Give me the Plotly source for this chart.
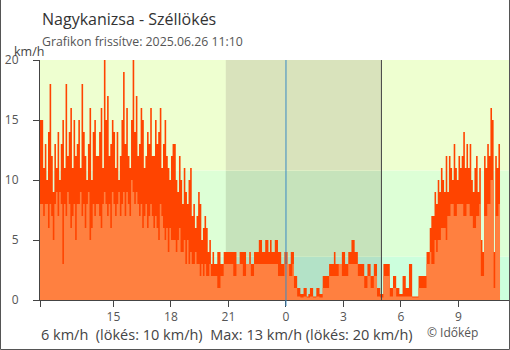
import plotly.graph_objects as go

# 5-minute data, starting 2025.06.25 11:10 (hours since midnight of 06.25)
start_hour = 11 + 10 / 60
step_hour = 5 / 60

gust_kmh = [
    15, 15, 11, 13, 10, 14, 18, 12, 9, 13, 11, 14,
    10, 13, 15, 11, 18, 12, 14, 16, 11, 15, 12, 13,
    15, 11, 18, 14, 12, 10, 13, 16, 10, 14, 15, 12,
    12, 14, 16, 11, 20, 15, 17, 12, 13, 15, 14, 11,
    14, 10, 12, 15, 19, 13, 16, 12, 11, 15, 20, 14,
    17, 12, 13, 16, 15, 11, 12, 14, 13, 16, 12, 12,
    15, 13, 14, 16, 11, 13, 15, 12, 11, 10, 12, 13,
    13, 10, 9, 12, 10, 8, 11, 9, 8, 10, 11, 7,
    8, 6, 7, 9, 8, 5, 6, 7, 6, 4, 5, 3,
    4, 3, 3, 4, 4, 3, 3, 4, 4, 4, 4, 4,
    4, 4, 4, 3, 3, 4, 4, 4, 4, 3, 3, 4,
    3, 3, 4, 4, 4, 5, 5, 4, 4, 5, 5, 4,
    5, 4, 4, 5, 5, 4, 4, 3, 3, 4, 4, 3,
    3, 4, 4, 2, 2, 1, 1, 0.5, 0.5, 1, 1, 0.3,
    0.5, 1, 1, 0.3, 0.3, 1, 1, 0.5, 0.5, 2, 2, 2,
    2, 3, 3, 3, 4, 3, 3, 3, 3, 4, 4, 3,
    3, 4, 4, 5, 5, 4, 4, 3, 3, 3, 3, 2,
    2, 3, 3, 2, 2, 3, 3, 1, 1, 0.5, 0.5, 3,
    3, 3, 3, 1, 1, 2, 2, 1, 1, 0.5, 0.5, 2,
    2, 1, 1, 3, 3, 0.3, 0.3, 0.3, 0.3, 2, 2, 2,
    2, 2, 4, 4, 6, 7, 7, 9, 8, 10, 9, 11,
    10, 9, 12, 9, 12, 11, 10, 13, 11, 10, 12, 11,
    12, 14, 11, 13, 11, 13, 10, 9, 11, 12, 9, 11,
    5, 4, 12, 11, 13, 12, 16, 15, 4, 12, 11, 13,
]

wind_kmh = [
    8, 8, 7, 8, 8, 6, 8, 7, 5, 8, 9, 7,
    9, 8, 3, 8, 7, 9, 8, 6, 7, 8, 5, 8,
    8, 9, 7, 8, 6, 8, 9, 5, 6, 8, 7, 8,
    8, 7, 6, 8, 9, 8, 7, 8, 6, 9, 8, 7,
    8, 9, 7, 8, 9, 7, 9, 8, 7, 10, 9, 8,
    9, 8, 7, 8, 6, 7, 8, 6, 7, 8, 7, 6,
    7, 6, 5, 8, 7, 6, 5, 6, 4, 6, 5, 5,
    5, 4, 5, 6, 4, 4, 5, 3, 5, 3, 4, 3,
    3, 4, 3, 3, 2, 3, 2, 3, 2, 2, 3, 2,
    2, 2, 2, 1, 1, 2, 2, 3, 3, 3, 3, 3,
    3, 2, 2, 3, 3, 3, 3, 2, 2, 3, 3, 3,
    2, 2, 3, 3, 3, 3, 3, 3, 3, 3, 3, 3,
    3, 3, 3, 3, 3, 2, 2, 2, 2, 3, 3, 3,
    2, 2, 3, 1, 1, 0.3, 0.3, 0.2, 0.2, 0.3, 0.3, 0.2,
    0.2, 0.3, 0.3, 0.2, 0.2, 0.3, 0.3, 0.2, 0.2, 1, 1, 1,
    1, 2, 2, 2, 2, 2, 2, 3, 3, 2, 2, 2,
    2, 3, 3, 3, 3, 3, 3, 2, 2, 2, 2, 1,
    1, 2, 2, 1, 1, 2, 2, 0.3, 0.3, 0.2, 0.2, 2,
    2, 2, 2, 0.3, 0.3, 1, 1, 0.3, 0.3, 0.3, 0.3, 0.3,
    0.3, 0.3, 0.3, 0.3, 0.3, 0.2, 0.2, 0.2, 0.2, 1, 1, 1,
    1, 1, 3, 3, 4, 3, 3, 5, 4, 5, 5, 6,
    6, 6, 5, 7, 7, 8, 8, 7, 7, 8, 8, 8,
    8, 7, 7, 8, 8, 7, 7, 6, 6, 7, 7, 8,
    2, 2, 7, 7, 8, 8, 10, 10, 1, 7, 7, 8,
]

tick_vals = [15, 18, 21, 24, 27, 30, 33]
tick_text = ["15", "18", "21", "0", "3", "6", "9"]
y_ticks = [0, 5, 10, 15, 20]

x_range = [start_hour, start_hour + 469 / 19.167]
sunset_hour = 20.86
sunrise_hour = 28.98
band_limits = [0, 3.6, 10.8, 20]
day_colors = ["#ccffdd", "#ddffd6", "#eeffd0"]
night_colors = ["#b3e2c7", "#c6e3bb", "#d9e3bc"]

n = len(wind_kmh)
xs = [start_hour + i * step_hour for i in range(n + 1)]
gust_y = gust_kmh + [gust_kmh[-1]]
wind_y = wind_kmh + [wind_kmh[-1]]

fig = go.Figure()
fig.add_trace(go.Scatter(x=xs, y=gust_y, mode="lines", line=dict(width=0, shape="hv"),
                         fill="tozeroy", fillcolor="#ff4400", hoverinfo="skip"))
fig.add_trace(go.Scatter(x=xs, y=wind_y, mode="lines", line=dict(width=0, shape="hv"),
                         fill="tozeroy", fillcolor="#ff8040", hoverinfo="skip"))

shapes = []
for i in range(3):
    shapes.append(dict(type="rect", xref="x", yref="y", x0=x_range[0], x1=x_range[1],
                       y0=band_limits[i], y1=band_limits[i + 1], fillcolor=day_colors[i],
                       line=dict(width=0), layer="below"))
    shapes.append(dict(type="rect", xref="x", yref="y", x0=sunset_hour, x1=sunrise_hour,
                       y0=band_limits[i], y1=band_limits[i + 1], fillcolor=night_colors[i],
                       line=dict(width=0), layer="below"))
shapes.append(dict(type="line", xref="x", yref="paper", x0=24, x1=24, y0=-0.025, y1=1,
                   line=dict(color="#3a8bc4", width=1), layer="above"))
shapes.append(dict(type="line", xref="x", yref="paper", x0=sunrise_hour, x1=sunrise_hour,
                   y0=0, y1=1, line=dict(color="#444444", width=1), layer="above"))
# page border (left, right, bottom)
pl, pr = (0.5 - 40) / 469, (509.5 - 40) / 469
pb, pt = (300 - 349.5) / 240, (300 - 0) / 240
for (x0, y0, x1, y1) in [(pl, pb, pl, pt), (pr, pb, pr, pt), (pl, pb, pr, pb)]:
    shapes.append(dict(type="line", xref="paper", yref="paper", x0=x0, y0=y0, x1=x1, y1=y1,
                       line=dict(color="#555555", width=1)))

font = "Open Sans, Noto Sans, sans-serif"
ann = [
    dict(text="Nagykanizsa - Széllökés", x=(40 - 40) / 469, y=(300 - 19) / 240,
         font=dict(size=16, color="#333333")),
    dict(text="Grafikon frissítve: 2025.06.26 11:10", x=(40 - 40) / 469, y=(300 - 41) / 240,
         font=dict(size=12.3, color="#555555")),
    dict(text="km/h", x=(12 - 40) / 469, y=(300 - 52) / 240,
         font=dict(size=12.5, color="#444444")),
    dict(text="6 km/h  (lökés: 10 km/h)  Max: 13 km/h (lökés: 20 km/h)", x=(39 - 40) / 469,
         y=(300 - 334) / 240, font=dict(size=14.5, color="#444444")),
    dict(text="© Időkép", x=(425 - 40) / 469, y=(300 - 332) / 240,
         font=dict(size=12, color="#555555")),
]
annotations = [dict(a, xref="paper", yref="paper", xanchor="left", yanchor="middle",
                    showarrow=False) for a in ann]

fig.update_layout(
    width=510, height=350,
    margin=dict(l=40, r=1, t=60, b=50),
    paper_bgcolor="white", plot_bgcolor="white",
    showlegend=False,
    font=dict(family=font, size=12, color="#555555"),
    shapes=shapes, annotations=annotations,
    xaxis=dict(range=x_range, tickmode="array", tickvals=[start_hour] + tick_vals,
               ticktext=[""] + tick_text, ticks="outside", ticklen=6, tickcolor="#444444",
               showline=True, linecolor="#444444", linewidth=1, showgrid=False, zeroline=False,
               tickfont=dict(size=12, color="#555555")),
    yaxis=dict(range=[0, 20], tickmode="array", tickvals=y_ticks, ticks="outside", ticklen=18,
               tickcolor="rgba(0,0,0,0)",
               minor=dict(tickmode="array", tickvals=y_ticks, ticks="outside", ticklen=6,
                          tickcolor="#444444", showgrid=False),
               showline=True, linecolor="#444444", linewidth=1,
               showgrid=False, zeroline=False, tickfont=dict(size=12, color="#555555")),
)

fig.write_html("out.html")
